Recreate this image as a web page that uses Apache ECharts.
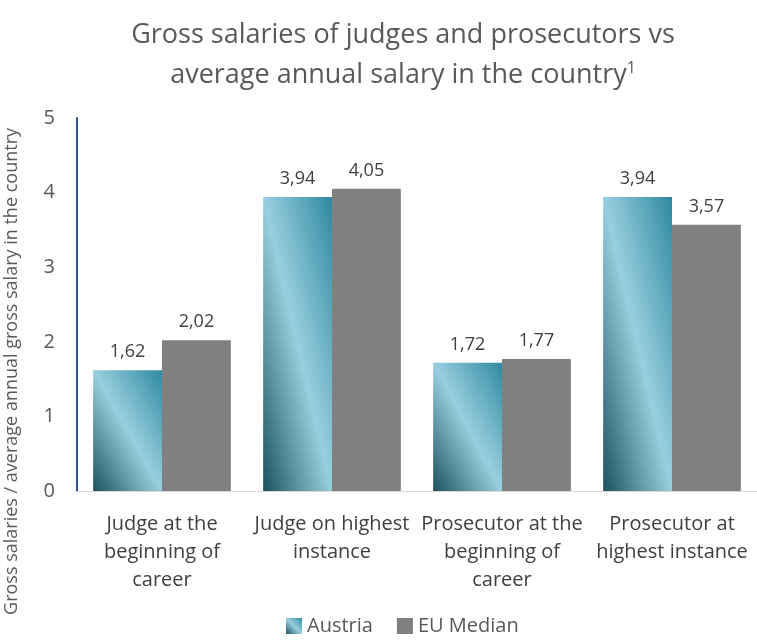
<!DOCTYPE html>
<html>
<head>
<meta charset="utf-8">
<script src="https://cdn.jsdelivr.net/npm/echarts@6/dist/echarts.min.js"></script>
<style>
  html, body { margin: 0; padding: 0; background: #fff; }
</style>
</head>
<body>
<div id="main" style="width: 757px; height: 641px"></div>
<script>
const categories = [
  'Judge at the\nbeginning of\ncareer',
  'Judge on highest\ninstance',
  'Prosecutor at the\nbeginning of\ncareer',
  'Prosecutor at\nhighest instance'
];
const austria = [1.62, 3.94, 1.72, 3.94];
const euMedian = [2.02, 4.05, 1.77, 3.57];
const yTicks = [0, 1, 2, 3, 4, 5];

const font = '"Open Sans", "Noto Sans", sans-serif';

// gradient whose light streak follows the bar's top-left -> bottom-right diagonal
function barGradient(w, h) {
  const s = w * w + h * h;
  const a = (h * h) / s, b = (w * w) / s;
  return new echarts.graphic.LinearGradient(0.5 - a, 0.5 + b, 0.5 + a, 0.5 - b, [
    { offset: 0, color: '#1c5160' },
    { offset: 0.5, color: '#98cfdf' },
    { offset: 1, color: '#3089a0' }
  ]);
}

const labelFmt = p => p.value.toFixed(2).replace('.', ',');

const myChart = echarts.init(document.getElementById('main'));
myChart.setOption({
  animation: false,
  textStyle: { fontFamily: font },
  title: {
    text: 'Gross salaries of judges and prosecutors vs\naverage annual salary in the country{sup|1}',
    left: 398,
    textAlign: 'center',
    top: 10,
    textStyle: {
      fontFamily: font,
      fontSize: 27,
      fontWeight: 'normal',
      color: '#595959',
      lineHeight: 40,
      rich: {
        sup: { fontSize: 16, color: '#595959', lineHeight: 40, padding: [0, 0, 14, 0] }
      }
    }
  },
  legend: {
    bottom: 0,
    left: 281,
    itemWidth: 16,
    itemHeight: 16,
    itemGap: 24,
    icon: 'rect',
    textStyle: { fontFamily: font, fontSize: 20, color: '#595959' },
    data: ['Austria', 'EU Median']
  },
  grid: { left: 77, right: 0, top: 118, bottom: 150 },
  xAxis: {
    type: 'category',
    data: categories,
    axisLine: { lineStyle: { color: '#d9d9d9', width: 1 } },
    axisTick: { show: false },
    axisLabel: {
      interval: 0,
      fontFamily: font,
      fontSize: 20,
      color: '#404040',
      lineHeight: 28,
      margin: 19
    }
  },
  yAxis: {
    type: 'value',
    min: yTicks[0],
    max: yTicks[yTicks.length - 1],
    interval: 1,
    axisLine: { show: true, lineStyle: { color: '#2f5597', width: 2 } },
    axisTick: { show: false },
    splitLine: { show: false },
    axisLabel: { fontFamily: font, fontSize: 20, color: '#595959', margin: 22 }
  },
  graphic: [{
    type: 'text',
    left: 3,
    top: 128,
    rotation: Math.PI / 2,
    style: {
      text: 'Gross salaries / average annual gross salary in the country',
      fontFamily: font,
      fontSize: 18,
      fill: '#595959'
    }
  }],
  series: [
    {
      name: 'Austria',
      type: 'bar',
      data: austria,
      barGap: '0%',
      barCategoryGap: '19%',
      itemStyle: { color: barGradient(1, 1) },
      label: {
        show: true,
        position: 'top',
        distance: 9,
        fontFamily: font,
        fontSize: 18,
        color: '#404040',
        formatter: labelFmt
      }
    },
    {
      name: 'EU Median',
      type: 'bar',
      data: euMedian,
      itemStyle: { color: '#808080' },
      label: {
        show: true,
        position: 'top',
        distance: 9,
        fontFamily: font,
        fontSize: 18,
        color: '#404040',
        formatter: labelFmt
      }
    }
  ]
});

// per-bar gradient sized from the laid-out bars
const austriaData = myChart.getModel().getSeriesByIndex(0).getData();
myChart.setOption({
  series: [{
    name: 'Austria',
    data: austria.map((v, i) => {
      const l = austriaData.getItemLayout(i);
      return { value: v, itemStyle: { color: barGradient(Math.abs(l.width), Math.abs(l.height)) } };
    })
  }]
});
</script>
</body>
</html>
